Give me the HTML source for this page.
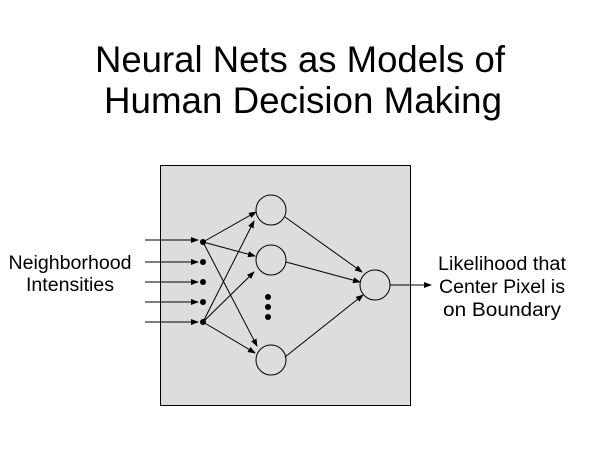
<!DOCTYPE html>
<html><head><meta charset="utf-8"><style>
html,body{margin:0;padding:0;background:#fff;}
svg{display:block;}
text{font-family:"Liberation Sans",Arial,sans-serif;fill:#000;}
</style></head><body>
<svg width="600" height="450" viewBox="0 0 600 450" xmlns="http://www.w3.org/2000/svg">
<defs>
<marker id="a" markerWidth="8" markerHeight="6" refX="7" refY="3" orient="auto" markerUnits="userSpaceOnUse">
<path d="M0,0 L8,3 L0,6 Z" fill="#000"/>
</marker>
</defs>
<text x="300" y="72" font-size="37" text-anchor="middle" textLength="410" lengthAdjust="spacingAndGlyphs">Neural Nets as Models of</text>
<text x="303" y="113" font-size="37" text-anchor="middle" textLength="398" lengthAdjust="spacingAndGlyphs">Human Decision Making</text>

<rect x="160.5" y="165.5" width="250" height="240" fill="#dddddd" stroke="#000" stroke-width="1"/>

<g stroke="#000" stroke-width="1" fill="none">
<line x1="145" y1="240" x2="198" y2="240" marker-end="url(#a)"/>
<line x1="145" y1="262" x2="198" y2="262" marker-end="url(#a)"/>
<line x1="145" y1="282" x2="198" y2="282" marker-end="url(#a)"/>
<line x1="145" y1="302" x2="198" y2="302" marker-end="url(#a)"/>
<line x1="145" y1="322" x2="198" y2="322" marker-end="url(#a)"/>

<line x1="203" y1="242" x2="256" y2="212" marker-end="url(#a)"/>
<line x1="203" y1="242" x2="255" y2="256" marker-end="url(#a)"/>
<line x1="203" y1="242" x2="257" y2="346" marker-end="url(#a)"/>
<line x1="203" y1="322" x2="254" y2="221" marker-end="url(#a)"/>
<line x1="203" y1="322" x2="254" y2="272" marker-end="url(#a)"/>
<line x1="203" y1="322" x2="255" y2="353" marker-end="url(#a)"/>

<line x1="285" y1="217" x2="362" y2="272" marker-end="url(#a)"/>
<line x1="286" y1="262" x2="360" y2="282" marker-end="url(#a)"/>
<line x1="285" y1="357" x2="363" y2="295" marker-end="url(#a)"/>

<line x1="390" y1="285" x2="431" y2="285" marker-end="url(#a)"/>

<circle cx="271" cy="210" r="15"/>
<circle cx="271" cy="260" r="15"/>
<circle cx="271" cy="360" r="15"/>
<circle cx="375" cy="285" r="15"/>
</g>
<g fill="#000">
<circle cx="203" cy="242" r="3"/>
<circle cx="203" cy="262" r="3"/>
<circle cx="203" cy="282" r="3"/>
<circle cx="203" cy="302" r="3"/>
<circle cx="203" cy="322" r="3"/>
<circle cx="268" cy="297" r="3"/>
<circle cx="268" cy="307" r="3"/>
<circle cx="268" cy="317" r="3"/>
</g>

<text x="70" y="269" font-size="19" text-anchor="middle" textLength="123" lengthAdjust="spacingAndGlyphs">Neighborhood</text>
<text x="70" y="291" font-size="19" text-anchor="middle" textLength="88" lengthAdjust="spacingAndGlyphs">Intensities</text>

<text x="502" y="270" font-size="19" text-anchor="middle" textLength="128" lengthAdjust="spacingAndGlyphs">Likelihood that</text>
<text x="502" y="293" font-size="19" text-anchor="middle" textLength="126" lengthAdjust="spacingAndGlyphs">Center Pixel is</text>
<text x="502" y="316" font-size="19" text-anchor="middle" textLength="118" lengthAdjust="spacingAndGlyphs">on Boundary</text>
</svg>
</body></html>
